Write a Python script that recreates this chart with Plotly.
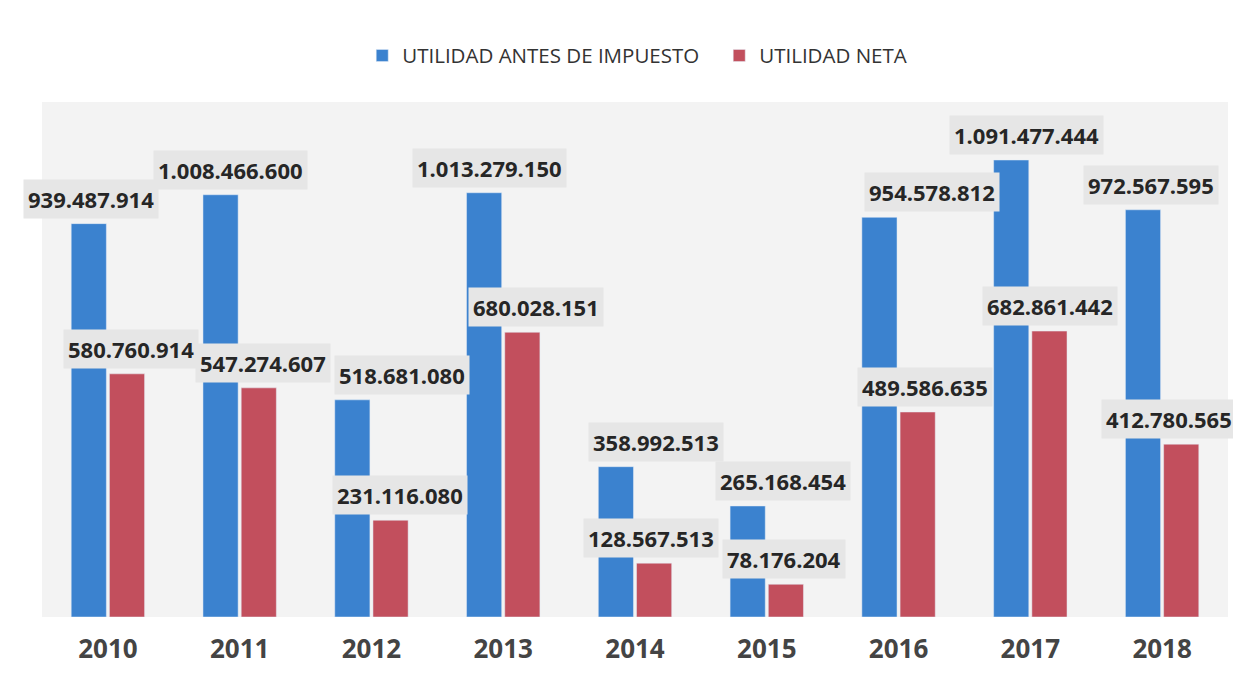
import plotly.graph_objects as go

years = ["2010", "2011", "2012", "2013", "2014", "2015", "2016", "2017", "2018"]
antes_impuesto = [939487914, 1008466600, 518681080, 1013279150, 358992513,
                  265168454, 954578812, 1091477444, 972567595]
utilidad_neta = [580760914, 547274607, 231116080, 680028151, 128567513,
                 78176204, 489586635, 682861442, 412780565]

# horizontal nudges (px) of the data labels, as they were moved in the original
nudge_antes = [2, 10, 50, 5, 40, 35, 53, 15, 8]
nudge_neta = [4, 4, 9, 14, -3, -2, 7, 1, -12]

BLUE = "#3b82cf"
RED = "#c24f5d"


def fmt(v):
    return f"{v:,}".replace(",", ".")


fig = go.Figure()
fig.add_trace(go.Bar(x=years, y=antes_impuesto, name="UTILIDAD ANTES DE IMPUESTO",
                     marker_color=BLUE))
fig.add_trace(go.Bar(x=years, y=utilidad_neta, name="UTILIDAD NETA",
                     marker_color=RED))

# data labels with grey boxes, placed over each bar
bargap, groupgap = 0.42, 0.08
off = (1 - bargap) / 4
for i in range(len(years)):
    for val, dx, nx in ((antes_impuesto[i], -off, nudge_antes[i]),
                        (utilidad_neta[i], off, nudge_neta[i])):
        fig.add_annotation(x=i + dx, y=val, text=fmt(val), showarrow=False,
                           yanchor="bottom", yshift=5, xshift=nx,
                           bgcolor="#e6e6e6", borderpad=4,
                           font=dict(family="Open Sans", size=22, color="#262626",
                                     weight="bold"))

fig.update_layout(
    width=1241, height=691,
    barmode="group", bargap=bargap, bargroupgap=groupgap,
    paper_bgcolor="white", plot_bgcolor="#f3f3f3",
    margin=dict(l=34, r=21, t=94, b=82),
    showlegend=True,
    legend=dict(orientation="h", x=0.27, xanchor="left",
                y=1.09, yanchor="middle",
                font=dict(family="Open Sans", size=20.5, color="#333333"),
                itemwidth=30, entrywidth=312),
    xaxis=dict(range=[-0.5, 8.5], showgrid=False, showline=False, ticks="",
               ticklabelstandoff=14,
               tickfont=dict(family="Open Sans", size=26, color="#444444",
                             weight="bold")),
    yaxis=dict(range=[0, 1.23e9], visible=False, showgrid=False),
)

fig.write_html("out.html")
